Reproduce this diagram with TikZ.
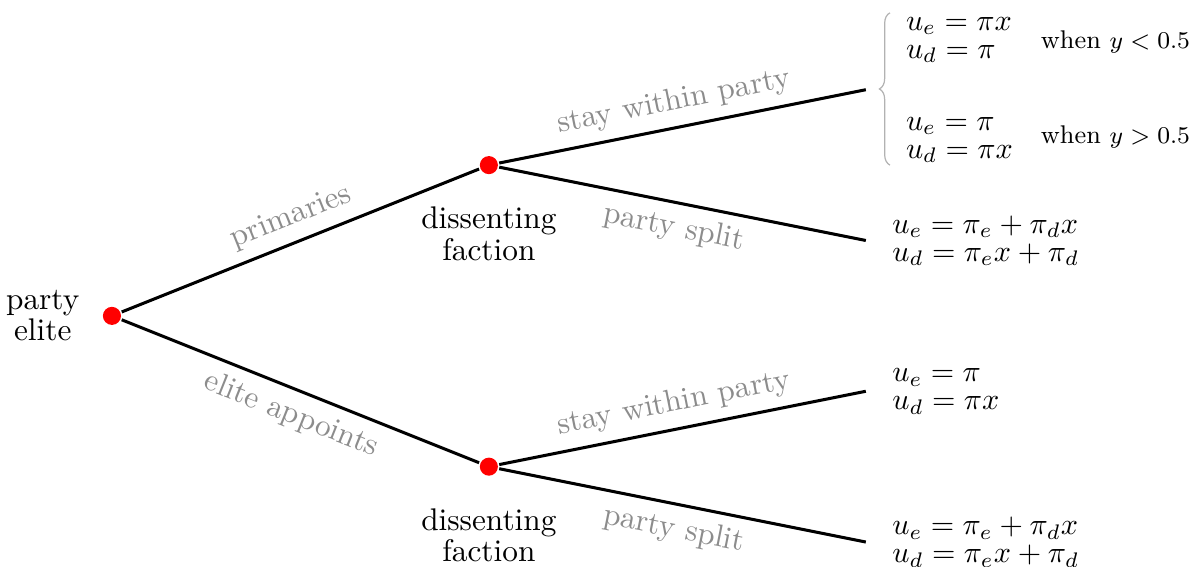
\documentclass[tikz,border=0pt]{standalone}
\usepackage{amsmath}
\usetikzlibrary{decorations.pathreplacing}

\tikzset{
  dot/.style={circle, fill=red, inner sep=0pt, minimum size=6pt},
  txt/.style={align=center, font=\fontsize{10.4}{9.3}\selectfont},
  lbl/.style={text=black!45, font=\fontsize{10.4}{9.3}\selectfont},
  payoff/.style={align=left, font=\fontsize{10}{9.3}\selectfont},
  cond/.style={font=\fontsize{8.5}{10}\selectfont}
}

\begin{document}
\begin{tikzpicture}[baseline, line width=1pt, x=0.88cm, y=0.88cm]

  \useasboundingbox (-1.485,-3.33) rectangle (14.38,4.19);

  \begin{scope}[xshift=0.0cm, yshift=0.0cm]

  \draw (0,0) node[dot, name=elite] {};
  \draw (5,2) node[dot, name=facA] {};
  \draw (5,-2) node[dot, name=facB] {};
  \coordinate (stayA) at (10,3);
  \coordinate (splitA) at (10,1);
  \coordinate (stayB) at (10,-1);
  \coordinate (splitB) at (10,-3);

  \draw (elite) -- node[lbl, above, sloped] {primaries} (facA);
  \draw (elite) -- node[lbl, below, sloped] {elite appoints} (facB);
  \draw (facA) -- node[lbl, pos=0.49, above, sloped] {stay within party} (stayA);
  \draw (facA) -- node[lbl, pos=0.49, below, sloped] {party split} (splitA);
  \draw (facB) -- node[lbl, pos=0.49, above, sloped] {stay within party} (stayB);
  \draw (facB) -- node[lbl, pos=0.49, below, sloped] {party split} (splitB);

  \draw (elite) node[txt, left=7pt] {party\\elite};
  \draw (facA) node[txt, below=10pt] {dissenting\\faction};
  \draw (facB) node[txt, below=10pt] {dissenting\\faction};

  % payoffs when the faction stays
  \draw [gray!60, line width=0.4pt, decorate, decoration={brace, amplitude=3.5pt}]
    (10.32,2.0) -- (10.32,4.02);
  \draw (10.38,3.66) node[payoff, anchor=west, name=payA1] {$u_e = \pi x$\\$u_d = \pi$};
  \draw (12.17,3.63) node[cond, anchor=west, name=condA1] {when $y < 0.5$};
  \draw (10.38,2.33) node[payoff, anchor=west, name=payA2] {$u_e = \pi$\\$u_d = \pi x$};
  \draw (12.17,2.37) node[cond, anchor=west, name=condA2] {when $y > 0.5$};

  \draw (splitA) node[payoff, right=5pt, name=payA3] {$u_e = \pi_e + \pi_d x$\\$u_d = \pi_e x + \pi_d$};
  \draw (stayB) node[payoff, right=5pt, name=payB1] {$u_e = \pi$\\$u_d = \pi x$};
  \draw (splitB) node[payoff, right=5pt, name=payB2] {$u_e = \pi_e + \pi_d x$\\$u_d = \pi_e x + \pi_d$};

  \end{scope}

\end{tikzpicture}
\end{document}
